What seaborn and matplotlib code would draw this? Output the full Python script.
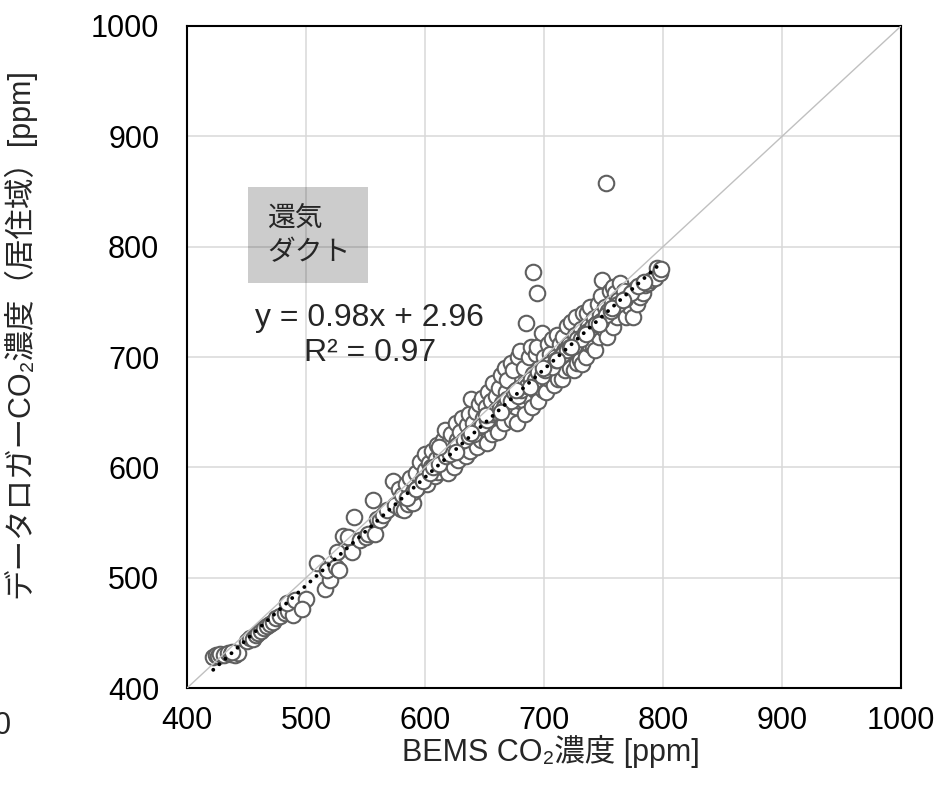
import matplotlib
matplotlib.use("Agg")
import matplotlib.pyplot as plt
import numpy as np
import pandas as pd
import seaborn as sns
from matplotlib.patches import Rectangle

# BEMS vs data-logger CO2 (return-air duct) [ppm]
bems_co2 = [
    422, 424, 426, 428, 431, 434, 437, 440, 443, 438,
    450, 453, 455, 458, 460, 462, 465, 467, 470, 472,
    475, 478, 482, 485, 489, 484, 491, 500, 497, 509,
    516, 520, 518, 525, 528, 526, 531, 535, 539, 540,
    545, 550, 552, 556, 558, 560, 562, 565, 568, 573,
    575, 580, 582, 586, 590,
    578, 581, 584, 587, 590, 592, 594, 596, 598, 600, 600, 602, 603,
    605, 606, 608, 609, 610, 611, 613, 614, 615, 616, 617, 618, 619, 620, 620,
    622, 623, 624, 625, 626, 627, 628, 629, 630, 631, 632, 634, 635, 636, 637, 638, 639, 640, 640,
    642, 643, 644, 645, 646, 647, 648, 649, 650, 651, 652, 653, 654, 655, 656, 657, 658, 659, 660, 660,
    661, 662, 663, 664, 665, 666, 667, 668, 669, 670, 671, 672, 673, 674, 675, 676, 677, 678, 679, 680, 680,
    682, 683, 684, 685, 686, 687, 688, 689, 690, 691, 691, 692, 693, 694, 694, 695, 696, 697, 698, 699, 700, 700,
    702, 703, 704, 705, 706, 707, 708, 709, 710, 711, 712, 713, 714, 715, 716, 717, 718, 719, 720, 721,
    722, 723, 724, 725, 726, 727, 728, 729, 730, 731, 732, 733, 734, 735, 736, 737, 738, 739, 740, 741,
    742, 743, 744, 745, 746, 747, 748, 749, 750, 751, 752, 753, 754, 755, 756, 757, 758, 758, 759, 760,
    761, 762, 764, 765, 767, 769, 770, 772, 774, 775, 776, 778, 780, 781, 783, 785, 787, 790, 793, 795,
    797, 798,
    # points inside the dense band
    585, 592, 598, 604, 607, 612, 618, 621, 627, 633, 637, 641, 645, 648, 652, 656, 659, 663,
    666, 669, 672, 675, 678, 681, 684, 686, 689, 692, 695, 698, 701, 704, 707, 710, 713, 716,
    719, 722, 725, 728, 731, 734, 737, 740, 744, 748, 752, 756, 762, 768, 773, 779, 784,
    612, 626, 639, 651, 664, 676, 688, 699, 711, 723, 735, 746, 757, 766,
]
logger_co2 = [
    428, 430, 429, 431, 430, 432, 431, 430, 432, 433,
    443, 445, 444, 448, 450, 452, 454, 456, 458, 460,
    463, 465, 468, 470, 466, 477, 480, 481, 472, 513,
    490, 498, 507, 510, 507, 523, 538, 537, 523, 555,
    534, 537, 540, 570, 540, 553, 552, 557, 561, 588,
    566, 562, 561, 567, 568,
    580, 575, 585, 590, 578, 595, 582, 605, 590, 612, 598, 585, 604,
    600, 615, 592, 608, 620, 596, 612, 600, 625, 605, 634, 615, 595, 622, 608,
    630, 612, 600, 618, 640, 625, 607, 632, 615, 645, 622, 610, 638, 628, 648, 615, 662, 640, 625,
    630, 650, 618, 657, 636, 625, 663, 645, 632, 655, 622, 668, 642, 660, 630, 676, 648, 638, 665, 652,
    632, 672, 645, 684, 658, 640, 690, 668, 679, 650, 660, 695, 643, 688, 665, 655, 640, 700, 672, 705, 660,
    661, 690, 648, 731, 675, 700, 663, 709, 655, 777, 685, 670, 703, 758, 709, 660, 690, 676, 722, 670, 700, 685,
    668, 712, 680, 703, 692, 716, 675, 700, 688, 720, 680, 712, 695, 680, 718, 705, 688, 728, 700, 712,
    690, 732, 705, 688, 720, 736, 695, 710, 697, 725, 694, 740, 715, 700, 740, 728, 712, 745, 720, 709,
    735, 706, 730, 748, 718, 738, 755, 770, 725, 745, 858, 718, 742, 760, 730, 750, 727, 763, 740, 758,
    736, 752, 767, 745, 760, 736, 750, 745, 754, 736, 762, 748, 763, 754, 758, 765, 767, 770, 772, 781,
    776, 780,
    # points inside the dense band
    572, 580, 588, 595, 600, 603, 610, 612, 620, 625, 628, 630, 637, 638, 643, 648, 650, 654,
    655, 662, 660, 668, 665, 670, 676, 674, 680, 679, 686, 683, 688, 694, 691, 697, 700, 703,
    706, 709, 710, 716, 716, 722, 724, 727, 730, 733, 738, 742, 748, 753, 758, 764, 768,
    618, 614, 631, 647, 650, 670, 673, 690, 697, 709, 721, 730, 744, 752,
]

# Excel linear trendline shown on the chart
fit_slope = 0.98
fit_intercept = 2.96
fit_r2 = 0.97

axis_ticks = [400, 500, 600, 700, 800, 900, 1000]

df = pd.DataFrame({"bems": bems_co2, "logger": logger_co2})
fit_x = np.array([df["bems"].min(), df["bems"].max()])
fit = pd.DataFrame({"bems": fit_x, "logger": fit_slope * fit_x + fit_intercept})

sns.set_style("whitegrid")
plt.rcParams["font.family"] = ["Liberation Sans", "Noto Sans CJK JP", "DejaVu Sans"]

fig = plt.figure(figsize=(9.4, 7.9), dpi=100)
ax = fig.add_axes([0.199, 0.1291, 0.7596, 0.8380])

sns.scatterplot(
    data=df, x="bems", y="logger", ax=ax,
    s=125, marker="o", facecolor="white", edgecolor="#5f5f5f", linewidth=1.5,
    zorder=3,
)
# 1:1 reference line
ax.axline((400, 400), (1000, 1000), color="#c0c0c0", linewidth=1.0, zorder=4)
sns.lineplot(
    data=fit, x="bems", y="logger", ax=ax,
    color="black", linewidth=2.8, linestyle=(0, (0.01, 2.1)),
    dash_capstyle="round", zorder=5,
)

ax.set_xlim(400, 1000)
ax.set_ylim(400, 1000)
ax.set_xticks(axis_ticks)
ax.set_yticks(axis_ticks)
ax.grid(True, color="#d9d9d9", linewidth=1.1)
ax.tick_params(axis="both", length=0, labelsize=22, colors="black")
ax.tick_params(axis="x", pad=13)
ax.tick_params(axis="y", pad=20)
for sp in ax.spines.values():
    sp.set_color("black")
    sp.set_linewidth(1.5)

ax.set_xlabel("BEMS CO\u2082濃度 [ppm]", fontsize=22)
ax.set_ylabel("データロガーCO\u2082濃度（居住域）[ppm]", fontsize=22)
ax.xaxis.set_label_coords(0.51, -0.071)
ax.yaxis.set_label_coords(-0.212, 0.536)

# grey label box (semi-transparent so the grid shows through)
ax.add_patch(Rectangle((0.0854, 0.612), 0.168, 0.145, transform=ax.transAxes,
                       facecolor="black", alpha=0.2, edgecolor="none", zorder=2))
ax.text(0.113, 0.683, "還気\nダクト", transform=ax.transAxes, fontsize=20,
        ha="left", va="center", linespacing=1.45, zorder=6)

ax.text(0.256, 0.533, f"y = {fit_slope:.2f}x + {fit_intercept:.2f}\nR² = {fit_r2:.2f}",
        transform=ax.transAxes, fontsize=23, ha="center", va="center",
        multialignment="center", linespacing=1.22, zorder=6)

# clipped tick label from the neighbouring panel
fig.text(0.002, 0.081, "0", fontsize=22, ha="center", va="center")

fig.savefig("out.png", dpi=100)
